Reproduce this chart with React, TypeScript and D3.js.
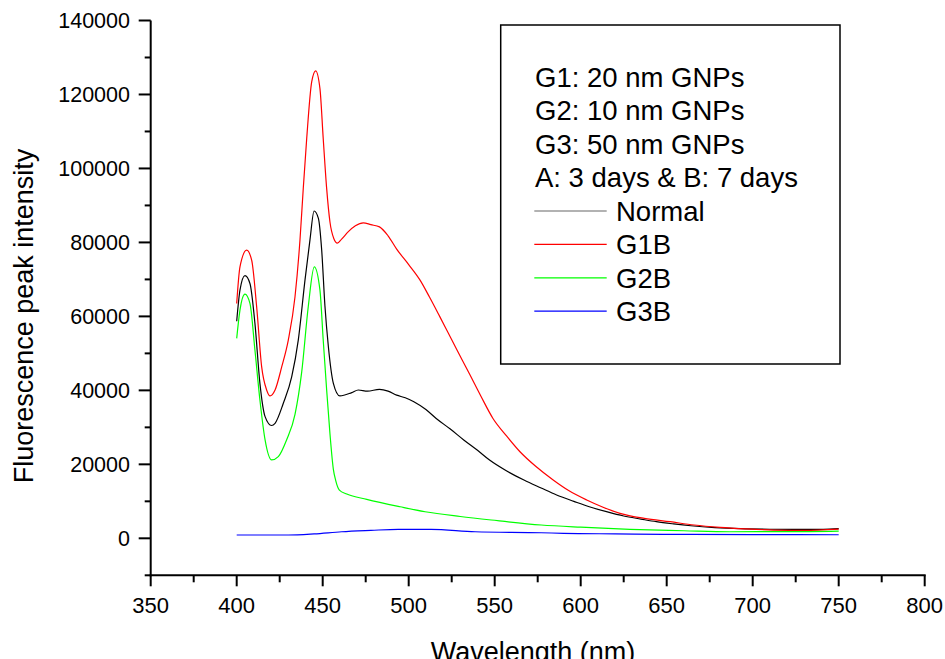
import React from "react";
import * as d3 from "d3";

const normalWl = [400,401.9,404.8,407.7,410.6,413.5,416.5,420.3,422.3,427.1,432,435.8,439.7,442.6,445,447.5,449.4,451.3,453.3,456.2,460,466.9,470.7,476,483,488,493,498,503,510,516,524,532,540,547,557,567,577,586,596,605,615,625,635,644,654,664,678,693,710,725,741,750];
const normalVal = [58700,67100,71000,68900,58100,41900,32900,30500,31100,36500,43700,53600,69800,80700,88500,86500,78000,62800,51800,41900,38500,39400,40100,39800,40270,39800,38700,38000,36900,34800,32400,29600,26600,23800,21160,18200,15760,13600,11700,10000,8540,7200,6030,5200,4490,3900,3400,2900,2600,2450,2400,2430,2600];

const g1bWl = [400,401.9,405.8,408.7,411.6,414.5,417.4,419.4,422.3,426.2,430,433.9,436.8,438.7,440.7,443.6,445.9,448.4,450.3,452.3,454.2,456.5,458.5,461,464.9,469,473.6,478,483,488,493,500,506.6,512,518,523,528,535.6,542,549,557,564.7,574,584,593,603.5,613,622.8,637,652,666,681,696,712,730,750];
const g1bVal = [63500,73400,77900,75200,62600,46400,40100,38500,40100,46400,53600,65300,80700,94600,108100,123400,126400,121600,108100,94600,85600,81000,79800,80900,82900,84500,85300,84800,84200,81800,78200,74000,69800,65300,60000,55500,51000,44200,38400,32400,27600,23400,19400,15760,12900,10350,8400,6760,5400,4490,3600,2970,2550,2240,2150,2500];

const g2bWl = [400,401.9,404.8,407.7,410.6,413.5,416.5,420.3,424.2,429,433.9,437.8,441.6,445.1,448.4,450.3,452.3,454.2,456.2,457.5,459.7,464,475.6,495,509.5,530,548,577,600,628.6,660,686.7,720,750];
const g2bVal = [54060,61700,66000,63500,50900,37400,26600,21200,22100,26600,33500,45000,62600,73400,67100,53600,40100,28400,18650,15760,13050,11970,10540,8540,7190,5900,4950,3600,3000,2430,2050,1780,1800,1970];

const g3bWl = [400,430,445,461,478,494,513,538.6,577,590,620,648,700,750];
const g3bVal = [890,890,1200,1780,2150,2430,2430,1780,1510,1350,1200,1080,1000,970];

const seriesNames = ["Normal", "G1B", "G2B", "G3B"];
const seriesColors = ["#000000", "#ff0000", "#00ff00", "#0000ff"];
const noteLines = ["G1: 20 nm GNPs", "G2: 10 nm GNPs", "G3: 50 nm GNPs", "A: 3 days & B: 7 days"];

const xTicks = [350, 400, 450, 500, 550, 600, 650, 700, 750, 800];
const xMinor = [375, 425, 475, 525, 575, 625, 675, 725, 775];
const yTicks = [0, 20000, 40000, 60000, 80000, 100000, 120000, 140000];
const yMinor = [-10000, 10000, 30000, 50000, 70000, 90000, 110000, 130000];

const FONT = "'Liberation Sans', Arial, Helvetica, sans-serif";

export default function App() {
  const x = d3.scaleLinear().domain([350, 800]).range([150.7, 924.7]);
  const y = d3.scaleLinear().domain([-10000, 140000]).range([575.3, 20.5]);
  const line = d3
    .line<[number, number]>()
    .x((d) => x(d[0]))
    .y((d) => y(d[1]))
    .curve(d3.curveMonotoneX);

  const series = [
    { wl: normalWl, val: normalVal },
    { wl: g1bWl, val: g1bVal },
    { wl: g2bWl, val: g2bVal },
    { wl: g3bWl, val: g3bVal },
  ];

  const x0 = x(350);
  const yb = y(-10000);
  const yt = y(140000);
  const xr = x(800);

  return (
    <svg
      width={945}
      height={659}
      style={{ position: "absolute", left: 0, top: 0, background: "#fff" }}
      fontFamily={FONT}
    >
      <rect x={0} y={0} width={945} height={659} fill="#fff" />
      {series.map((s, i) => (
        <path
          key={i}
          d={line(s.wl.map((w, j) => [w, s.val[j]] as [number, number])) || ""}
          fill="none"
          stroke={seriesColors[i]}
          strokeWidth={1.2}
          strokeLinejoin="round"
        />
      ))}
      <line x1={x0} x2={x0} y1={yt} y2={yb + 1} stroke="#000" strokeWidth={2} />
      <line x1={x0 - 1} x2={xr + 1} y1={yb} y2={yb} stroke="#000" strokeWidth={2} />
      {yTicks.map((t) => (
        <g key={"yt" + t}>
          <line x1={x0 - 12} x2={x0} y1={y(t)} y2={y(t)} stroke="#000" strokeWidth={2} />
          <text x={130} y={y(t)} dy="0.35em" textAnchor="end" fontSize={21.5}>
            {t}
          </text>
        </g>
      ))}
      {yMinor.map((t) => (
        <line key={"ym" + t} x1={x0 - 6} x2={x0} y1={y(t)} y2={y(t)} stroke="#000" strokeWidth={2} />
      ))}
      {xTicks.map((t) => (
        <g key={"xt" + t}>
          <line x1={x(t)} x2={x(t)} y1={yb} y2={yb + 11} stroke="#000" strokeWidth={2} />
          <text x={x(t)} y={613} textAnchor="middle" fontSize={22}>
            {t}
          </text>
        </g>
      ))}
      {xMinor.map((t) => (
        <line key={"xm" + t} x1={x(t)} x2={x(t)} y1={yb} y2={yb + 7} stroke="#000" strokeWidth={2} />
      ))}
      <text x={533} y={661} textAnchor="middle" fontSize={27}>
        Wavelength (nm)
      </text>
      <text transform={`translate(33, 316) rotate(-90)`} textAnchor="middle" fontSize={27}>
        Fluorescence peak intensity
      </text>
      <rect x={500.7} y={25} width={339.3} height={339} fill="#fff" stroke="#000" strokeWidth={1.5} />
      {noteLines.map((t, i) => (
        <text key={t} x={535} y={86.7 + i * 33.4} fontSize={27.5}>
          {t}
        </text>
      ))}
      {seriesNames.map((n, i) => (
        <g key={n}>
          <line
            x1={534.3}
            x2={606.7}
            y1={211 + i * 33.4}
            y2={211 + i * 33.4}
            stroke={seriesColors[i]}
            strokeOpacity={i === 0 ? 0.6 : 1}
            strokeWidth={1.2}
          />
          <text x={616} y={220.7 + i * 33.4} fontSize={27.5}>
            {n}
          </text>
        </g>
      ))}
    </svg>
  );
}
